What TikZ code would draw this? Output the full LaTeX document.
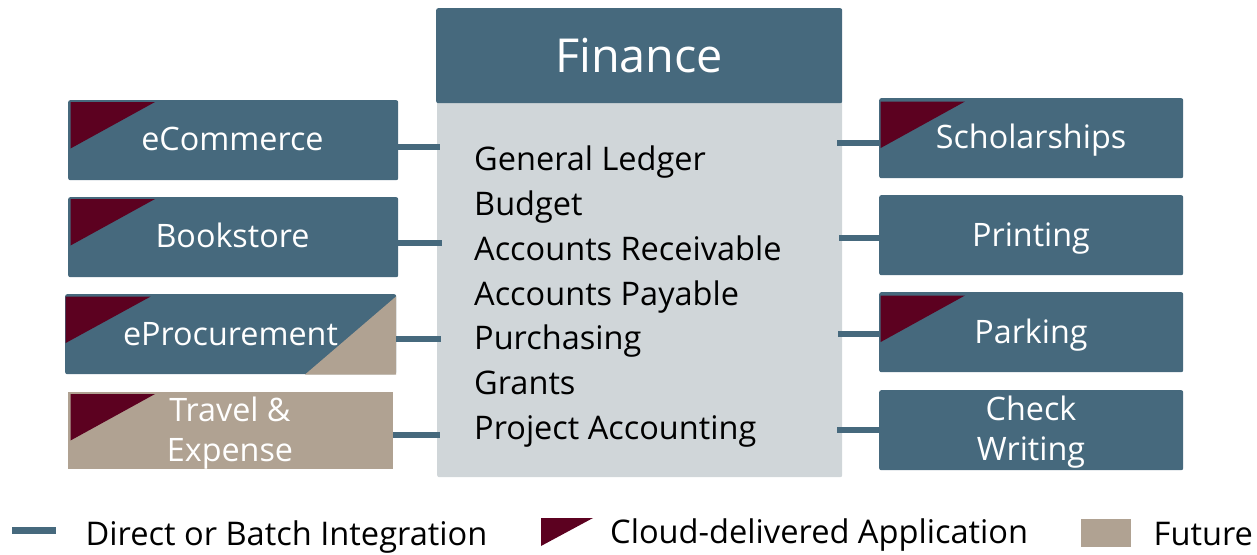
\documentclass[tikz,border=0pt]{standalone}
\usepackage{fontspec}
\setmainfont{Open Sans}
\definecolor{slateb}{HTML}{46697D}
\definecolor{maroonc}{HTML}{5C0120}
\definecolor{tanc}{HTML}{B0A292}
\definecolor{greyc}{HTML}{D0D6D9}
\tikzset{
  appbox/.style={rectangle,rounded corners=2pt,fill=slateb,inner sep=0pt,anchor=north west},
  futbox/.style={appbox,rounded corners=0pt,fill=tanc},
  applabel/.style={text=white,inner sep=0pt,anchor=base,font=\fontsize{32.3}{36}\selectfont},
  twolabel/.style={text=white,inner sep=0pt,align=center,font=\fontsize{32.3}{40}\selectfont},
  link/.style={draw=slateb,line width=5.5pt},
  cloud/.style={fill=maroonc},
  bodyt/.style={anchor=base west,inner sep=0pt,font=\fontsize{32.5}{36}\selectfont,text=black},
  legt/.style={anchor=base west,inner sep=0pt,font=\fontsize{32.6}{36}\selectfont,text=black}
}
\begin{document}
\begin{tikzpicture}[x=1pt,y=-1pt]
\useasboundingbox (0,0) rectangle (1257,554);
% centre
\node[rectangle,rounded corners=2pt,fill=greyc,minimum width=405pt,minimum height=377pt,inner sep=0pt,anchor=north west] (body) at (437,100) {};
\node[appbox,minimum width=406pt,minimum height=95pt,text=white,font=\fontsize{46.8}{50}\selectfont] (fin) at (436,8) {Finance};
% connector ends
\coordinate (la) at (440,147);
\coordinate (lb) at (442,243);
\coordinate (lc) at (441,339);
\coordinate (ld) at (440,435);
\coordinate (ra) at (837,143);
\coordinate (rb) at (839,238);
\coordinate (rc) at (838,334);
\coordinate (rd) at (837,430);
% left
\node[appbox,minimum width=330pt,minimum height=80pt] (ecom) at (68,100) {};
\node[appbox,minimum width=330pt,minimum height=80pt] (book) at (68,197) {};
\node[appbox,minimum width=331pt,minimum height=80pt] (proc) at (65,294) {};
\node[futbox,minimum width=325pt,minimum height=77pt] (trav) at (68,392) {};
% right
\node[appbox,minimum width=304pt,minimum height=80pt] (schol) at (879,98) {};
\node[appbox,minimum width=304pt,minimum height=80pt] (print) at (879,195) {};
\node[appbox,minimum width=304pt,minimum height=80pt] (park) at (879,292) {};
\node[appbox,minimum width=304pt,minimum height=80pt] (check) at (879,390) {};
% future corner
\fill[tanc] (396,296.5) -- (396,374.5) -- (305,374.5) -- cycle;
% cloud triangles
\fill[cloud] (70.5,102) -- (155,102) -- (70.5,148.5) -- cycle;
\fill[cloud] (70.5,199) -- (155,199) -- (70.5,245.5) -- cycle;
\fill[cloud] (65.7,296.5) -- (150.7,296.5) -- (65.7,343) -- cycle;
\fill[cloud] (70.5,394) -- (155,394) -- (70.5,440.5) -- cycle;
\fill[cloud] (880.7,101.5) -- (965,101.5) -- (880.7,148) -- cycle;
\fill[cloud] (880.7,295.5) -- (965,295.5) -- (880.7,342) -- cycle;
% connectors
\draw[link] (ecom.east |- la) -- (la);
\draw[link] (book.east |- lb) -- (lb);
\draw[link] (proc.east |- lc) -- (lc);
\draw[link] (trav.east |- ld) -- (ld);
\draw[link] (schol.west |- ra) -- (ra);
\draw[link] (print.west |- rb) -- (rb);
\draw[link] (park.west |- rc) -- (rc);
\draw[link] (check.west |- rd) -- (rd);
% box labels
\node[applabel] (tecom) at (232.5,150) {eCommerce};
\node[applabel] (tbook) at (232.5,247) {Bookstore};
\node[applabel] (tproc) at (230.5,345) {eProcurement};
\node[twolabel] (ttrav) at (230,433.5) {Travel \&\\Expense};
\node[applabel] (tschol) at (1031,148) {Scholarships};
\node[applabel] (tprint) at (1031,246) {Printing};
\node[applabel] (tpark) at (1031,343) {Parking};
\node[twolabel] (tcheck) at (1031,432.5) {Check\\Writing};
% body list
\node[bodyt] (g1) at (474,170.5) {General Ledger};
\node[bodyt] (g2) at (474,215.5) {Budget};
\node[bodyt] (g3) at (474,260.5) {Accounts Receivable};
\node[bodyt] (g4) at (474,305.5) {Accounts Payable};
\node[bodyt] (g5) at (474,349.5) {Purchasing};
\node[bodyt] (g6) at (474,394.5) {Grants};
\node[bodyt] (g7) at (474,439.5) {Project Accounting};
% legend
\coordinate (lega) at (12,530);
\coordinate (legb) at (56,530);
\draw[link,line width=7pt] (lega) -- (legb);
\node[legt] (l1) at (85.5,545) {Direct or Batch Integration};
\fill[cloud] (541,518) -- (593,518) -- (541,546) -- cycle;
\node[legt] (l2) at (610,543.5) {Cloud-delivered Application};
\fill[tanc] (1081,519) rectangle (1131,547);
\node[legt] (l3) at (1153.5,545) {Future};
\end{tikzpicture}
\end{document}
